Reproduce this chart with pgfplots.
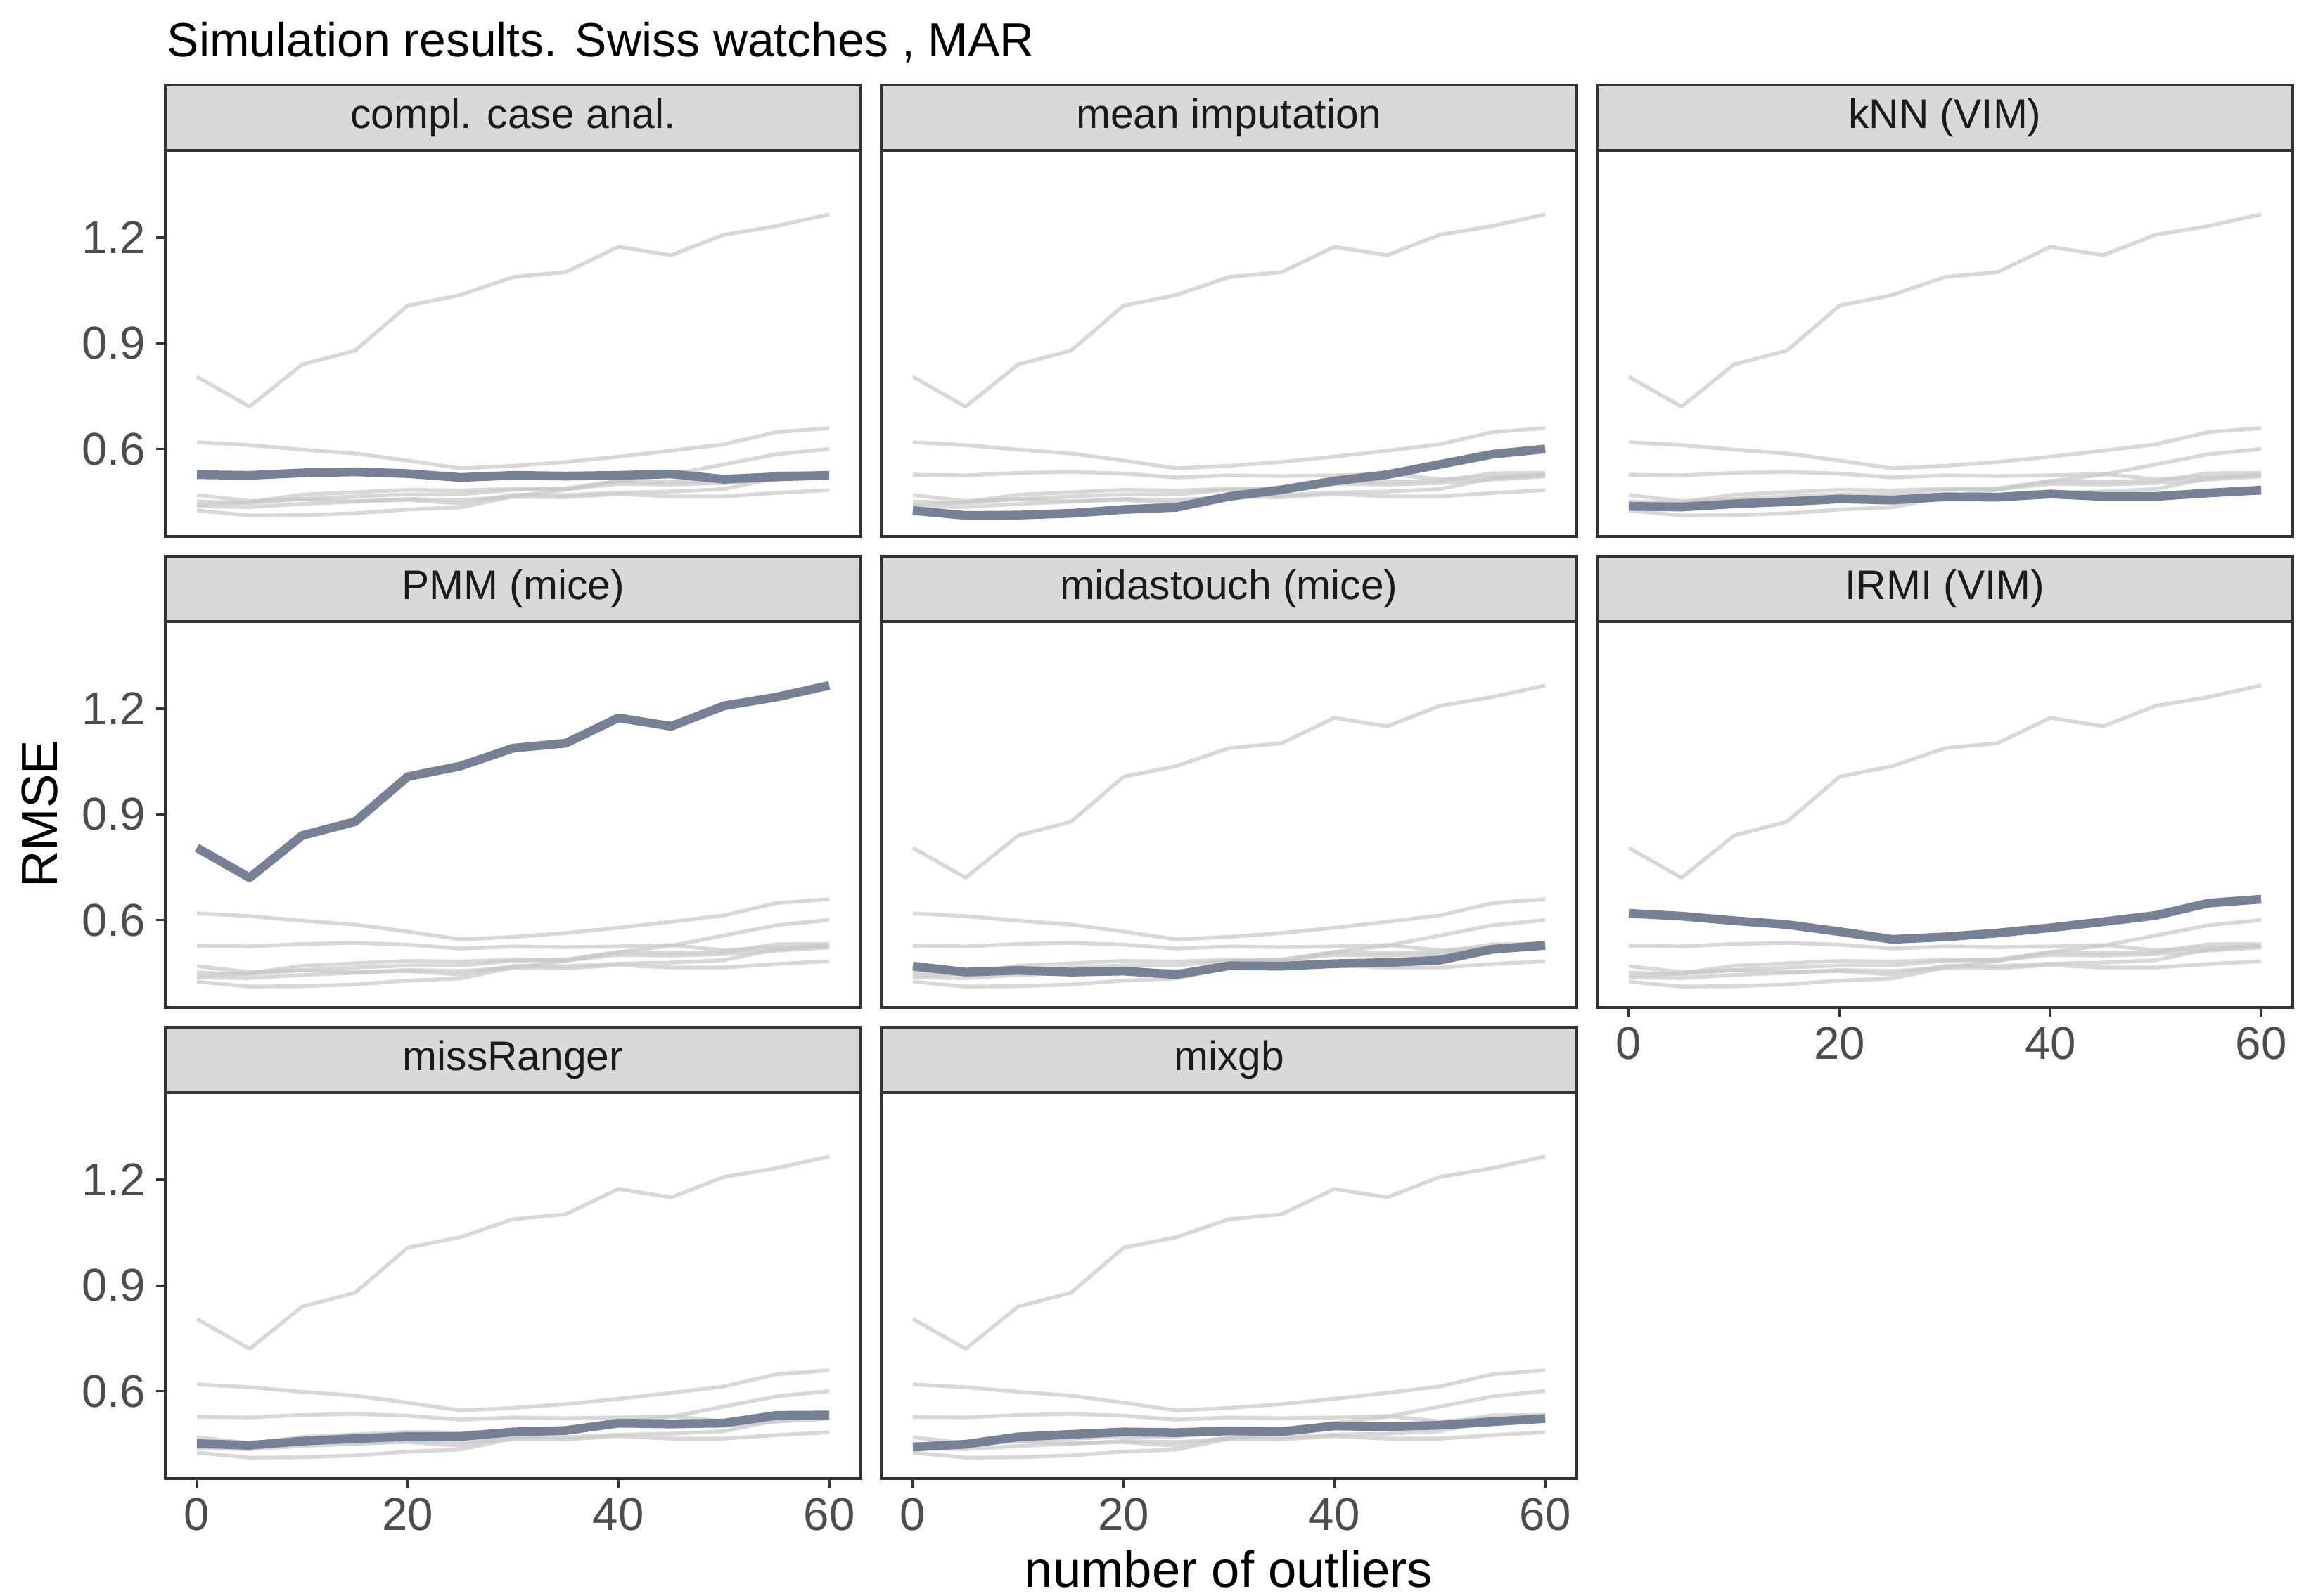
\documentclass[border=0pt]{standalone}
\usepackage{fontspec}
\setmainfont{Liberation Sans}
\usepackage{pgfplots}
\usepackage{pgfplotstable}
\pgfplotsset{compat=1.18}

\definecolor{hl}{RGB}{119,129,150}
\definecolor{frame20}{RGB}{51,51,51}
\definecolor{stripfill}{RGB}{217,217,217}
\definecolor{tick30}{RGB}{77,77,77}
\definecolor{txt10}{RGB}{26,26,26}
\definecolor{ghost}{RGB}{200,200,200}

% RMSE by number of outliers, one column per method
\pgfplotstableread{
x  cca   mean  knn   pmm   midas irmi  missr mixgb
0  0.527 0.425 0.437 0.805 0.469 0.619 0.451 0.441
5  0.525 0.411 0.435 0.720 0.452 0.611 0.446 0.449
10 0.532 0.412 0.444 0.840 0.457 0.598 0.458 0.470
15 0.535 0.417 0.450 0.879 0.452 0.587 0.465 0.477
20 0.530 0.428 0.458 1.007 0.455 0.567 0.471 0.484
25 0.519 0.434 0.455 1.037 0.445 0.545 0.471 0.482
30 0.525 0.465 0.464 1.088 0.470 0.552 0.484 0.487
35 0.523 0.484 0.463 1.102 0.469 0.563 0.488 0.485
40 0.525 0.509 0.472 1.174 0.476 0.578 0.509 0.501
45 0.529 0.527 0.465 1.150 0.479 0.595 0.507 0.499
50 0.514 0.556 0.465 1.208 0.486 0.613 0.509 0.503
55 0.521 0.585 0.475 1.233 0.517 0.648 0.531 0.513
60 0.525 0.600 0.483 1.266 0.528 0.659 0.532 0.522
}\rmse

\pgfplotsset{
  facet/.style={
    scale only axis, width=237.36pt, height=131.76pt,
    xmin=-3, xmax=63, ymin=0.3515, ymax=1.4475,
    anchor=north west, axis on top,
    axis line style={draw=frame20, line width=0.8pt},
    tick style={draw=frame20, line width=0.8pt},
    tick align=outside, major tick length=3.1pt, tick pos=left,
    xtick=\empty, ytick=\empty,
    ticklabel style={font=\fontsize{15.7}{18}\selectfont, text=tick30},
    /pgf/number format/assume math mode=true,
  },
  xaxis/.style={xtick={0,20,40,60}},
  yaxis/.style={ytick={0.6,0.9,1.2}},
  grey/.style={draw=ghost, draw opacity=0.7, line width=1.3pt, line join=round},
  hi/.style={draw=hl, line width=3pt, line join=round},
}

\newcommand{\greys}{%
  \pgfplotsinvokeforeach{cca,mean,knn,pmm,midas,irmi,missr,mixgb}{%
    \addplot[grey] table[x=x,y=##1]{\rmse};}}

\newcommand{\strip}[3]{%
  \draw[fill=stripfill, draw=frame20, line width=0.8pt] (#1,-#2) rectangle ++(237.36,22.32);
  \node[font=\fontsize{14.1}{17}\selectfont, text=txt10] at (#1+118.68,-#2+11.16) {#3};}

\begin{document}
\begin{tikzpicture}[x=1pt,y=1pt]
\path[use as bounding box] (0,0) rectangle (788.64,-544.8);

% row 1
\begin{axis}[facet, yaxis, at={(56.4pt,-51.36pt)}]
\greys
\addplot[hi] table[x=x,y=cca]{\rmse};
\end{axis}
\begin{axis}[facet, at={(300.72pt,-51.36pt)}]
\greys
\addplot[hi] table[x=x,y=mean]{\rmse};
\end{axis}
\begin{axis}[facet, at={(545.04pt,-51.36pt)}]
\greys
\addplot[hi] table[x=x,y=knn]{\rmse};
\end{axis}

% row 2
\begin{axis}[facet, yaxis, at={(56.4pt,-212.16pt)}]
\greys
\addplot[hi] table[x=x,y=pmm]{\rmse};
\end{axis}
\begin{axis}[facet, at={(300.72pt,-212.16pt)}]
\greys
\addplot[hi] table[x=x,y=midas]{\rmse};
\end{axis}
\begin{axis}[facet, xaxis, at={(545.04pt,-212.16pt)}]
\greys
\addplot[hi] table[x=x,y=irmi]{\rmse};
\end{axis}

% row 3
\begin{axis}[facet, xaxis, yaxis, at={(56.4pt,-372.96pt)}]
\greys
\addplot[hi] table[x=x,y=missr]{\rmse};
\end{axis}
\begin{axis}[facet, xaxis, at={(300.72pt,-372.96pt)}]
\greys
\addplot[hi] table[x=x,y=mixgb]{\rmse};
\end{axis}

\strip{56.4}{51.36}{compl. case anal.}
\strip{300.72}{51.36}{mean imputation}
\strip{545.04}{51.36}{kNN (VIM)}
\strip{56.4}{212.16}{PMM (mice)}
\strip{300.72}{212.16}{midastouch (mice)}
\strip{545.04}{212.16}{IRMI (VIM)}
\strip{56.4}{372.96}{missRanger}
\strip{300.72}{372.96}{mixgb}

\node[anchor=base west, inner sep=0pt, font=\fontsize{16.3}{19}\selectfont] at (56.9,-19.44) {Simulation results. Swiss watches , MAR};
\node[rotate=90, inner sep=0pt, font=\fontsize{17.4}{20}\selectfont] at (13.68,-277.92) {RMSE};
\node[anchor=base, inner sep=0pt, font=\fontsize{17.4}{20}\selectfont] at (419.28,-541.9) {number of outliers};
\end{tikzpicture}
\end{document}
